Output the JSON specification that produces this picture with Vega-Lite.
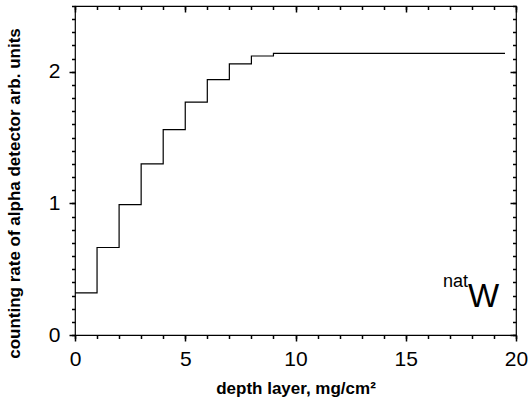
{
  "$schema": "https://vega.github.io/schema/vega-lite/v6.json",
  "width": 441,
  "height": 329,
  "autosize": "none",
  "padding": {"left": 75, "top": 6, "right": 15, "bottom": 66},
  "background": "white",
  "config": {
    "view": {"stroke": "black", "strokeWidth": 1.2},
    "axis": {
      "grid": false,
      "domain": false,
      "labelColor": "black",
      "titleColor": "black",
      "labelFont": "Liberation Sans",
      "titleFont": "Liberation Sans"
    }
  },
  "datasets": {
    "steps": [
      {"depth": 0, "rate": 0.32},
      {"depth": 1, "rate": 0.665},
      {"depth": 2, "rate": 0.99},
      {"depth": 3, "rate": 1.3},
      {"depth": 4, "rate": 1.56},
      {"depth": 5, "rate": 1.77},
      {"depth": 6, "rate": 1.94},
      {"depth": 7, "rate": 2.06},
      {"depth": 8, "rate": 2.12},
      {"depth": 9, "rate": 2.14},
      {"depth": 19.5, "rate": 2.14}
    ]
  },
  "data": {"name": "steps"},
  "layer": [
    {
      "mark": {"type": "line", "interpolate": "step-after", "color": "black", "strokeWidth": 1.2},
      "encoding": {
        "x": {
          "field": "depth",
          "type": "quantitative",
          "scale": {"domain": [0, 20], "nice": false, "zero": false},
          "axis": {
            "orient": "bottom",
            "values": [0, 5, 10, 15, 20],
            "ticks": true,
            "tickSize": 6,
            "tickColor": "black",
            "tickWidth": 1.5,
            "format": "d",
            "labelFontSize": 21,
            "labelPadding": 7,
            "labelFlush": false,
            "labelOverlap": false,
            "title": "depth layer, mg/cm²",
            "titleFontSize": 17,
            "titleFontWeight": "bold",
            "titleY": 58,
            "titleBaseline": "alphabetic"
          }
        },
        "y": {
          "field": "rate",
          "type": "quantitative",
          "scale": {"domain": [0, 2.5], "nice": false},
          "axis": {
            "orient": "left",
            "values": [0, 1, 2],
            "ticks": true,
            "tickSize": 6,
            "tickColor": "black",
            "tickWidth": 1.5,
            "format": "d",
            "labelFontSize": 21,
            "labelPadding": 9,
            "labelOverlap": false,
            "labelFlush": false,
            "title": "counting rate of alpha detector arb. units",
            "titleFontSize": 17,
            "titleFontWeight": "bold",
            "titleAngle": 270,
            "titleX": -56,
            "titleY": 187,
            "titleAlign": "center",
            "titleBaseline": "alphabetic"
          }
        }
      }
    },
    {
      "mark": {"type": "line", "opacity": 0},
      "encoding": {
        "x": {
          "field": "depth",
          "type": "quantitative",
          "axis": {
            "orient": "bottom",
            "values": [0,1,2,3,4,5,6,7,8,9,10,11,12,13,14,15,16,17,18,19,20],
            "ticks": true,
            "tickSize": 3.5,
            "tickColor": "black",
            "tickWidth": 1.5,
            "labels": false,
            "title": null
          }
        },
        "y": {
          "field": "rate",
          "type": "quantitative",
          "axis": {
            "orient": "left",
            "values": [0,0.1,0.2,0.3,0.4,0.5,0.6,0.7,0.8,0.9,1,1.1,1.2,1.3,1.4,1.5,1.6,1.7,1.8,1.9,2,2.1,2.2,2.3,2.4,2.5],
            "ticks": true,
            "tickSize": 3.5,
            "tickColor": "black",
            "tickWidth": 1.5,
            "labels": false,
            "title": null
          }
        }
      }
    },
    {
      "mark": {"type": "line", "opacity": 0},
      "encoding": {
        "x": {
          "field": "depth",
          "type": "quantitative",
          "axis": {
            "orient": "top",
            "values": [0, 5, 10, 15, 20],
            "ticks": true,
            "tickSize": -6,
            "tickColor": "black",
            "tickWidth": 1.5,
            "labels": false,
            "title": null
          }
        },
        "y": {
          "field": "rate",
          "type": "quantitative",
          "axis": {
            "orient": "right",
            "values": [0, 1, 2],
            "ticks": true,
            "tickSize": -6,
            "tickColor": "black",
            "tickWidth": 1.5,
            "labels": false,
            "title": null
          }
        }
      }
    },
    {
      "mark": {"type": "line", "opacity": 0},
      "encoding": {
        "x": {
          "field": "depth",
          "type": "quantitative",
          "axis": {
            "orient": "top",
            "values": [0,1,2,3,4,5,6,7,8,9,10,11,12,13,14,15,16,17,18,19,20],
            "ticks": true,
            "tickSize": -3.5,
            "tickColor": "black",
            "tickWidth": 1.5,
            "labels": false,
            "title": null
          }
        },
        "y": {
          "field": "rate",
          "type": "quantitative",
          "axis": {
            "orient": "right",
            "values": [0,0.1,0.2,0.3,0.4,0.5,0.6,0.7,0.8,0.9,1,1.1,1.2,1.3,1.4,1.5,1.6,1.7,1.8,1.9,2,2.1,2.2,2.3,2.4,2.5],
            "ticks": true,
            "tickSize": -3.5,
            "tickColor": "black",
            "tickWidth": 1.5,
            "labels": false,
            "title": null
          }
        }
      }
    },
    {
      "data": {"values": [{}]},
      "mark": {"type": "text", "text": "W", "font": "Liberation Sans", "fontSize": 33, "align": "center", "baseline": "alphabetic", "color": "black"},
      "encoding": {
        "x": {"datum": 18.53, "type": "quantitative", "axis": null},
        "y": {"datum": 0.21, "type": "quantitative", "axis": null}
      }
    },
    {
      "data": {"values": [{}]},
      "mark": {"type": "text", "text": "nat", "font": "Liberation Sans", "fontSize": 18, "align": "right", "baseline": "alphabetic", "color": "black"},
      "encoding": {
        "x": {"datum": 17.82, "type": "quantitative", "axis": null},
        "y": {"datum": 0.363, "type": "quantitative", "axis": null}
      }
    }
  ],
  "resolve": {"axis": {"x": "independent", "y": "independent"}}
}
